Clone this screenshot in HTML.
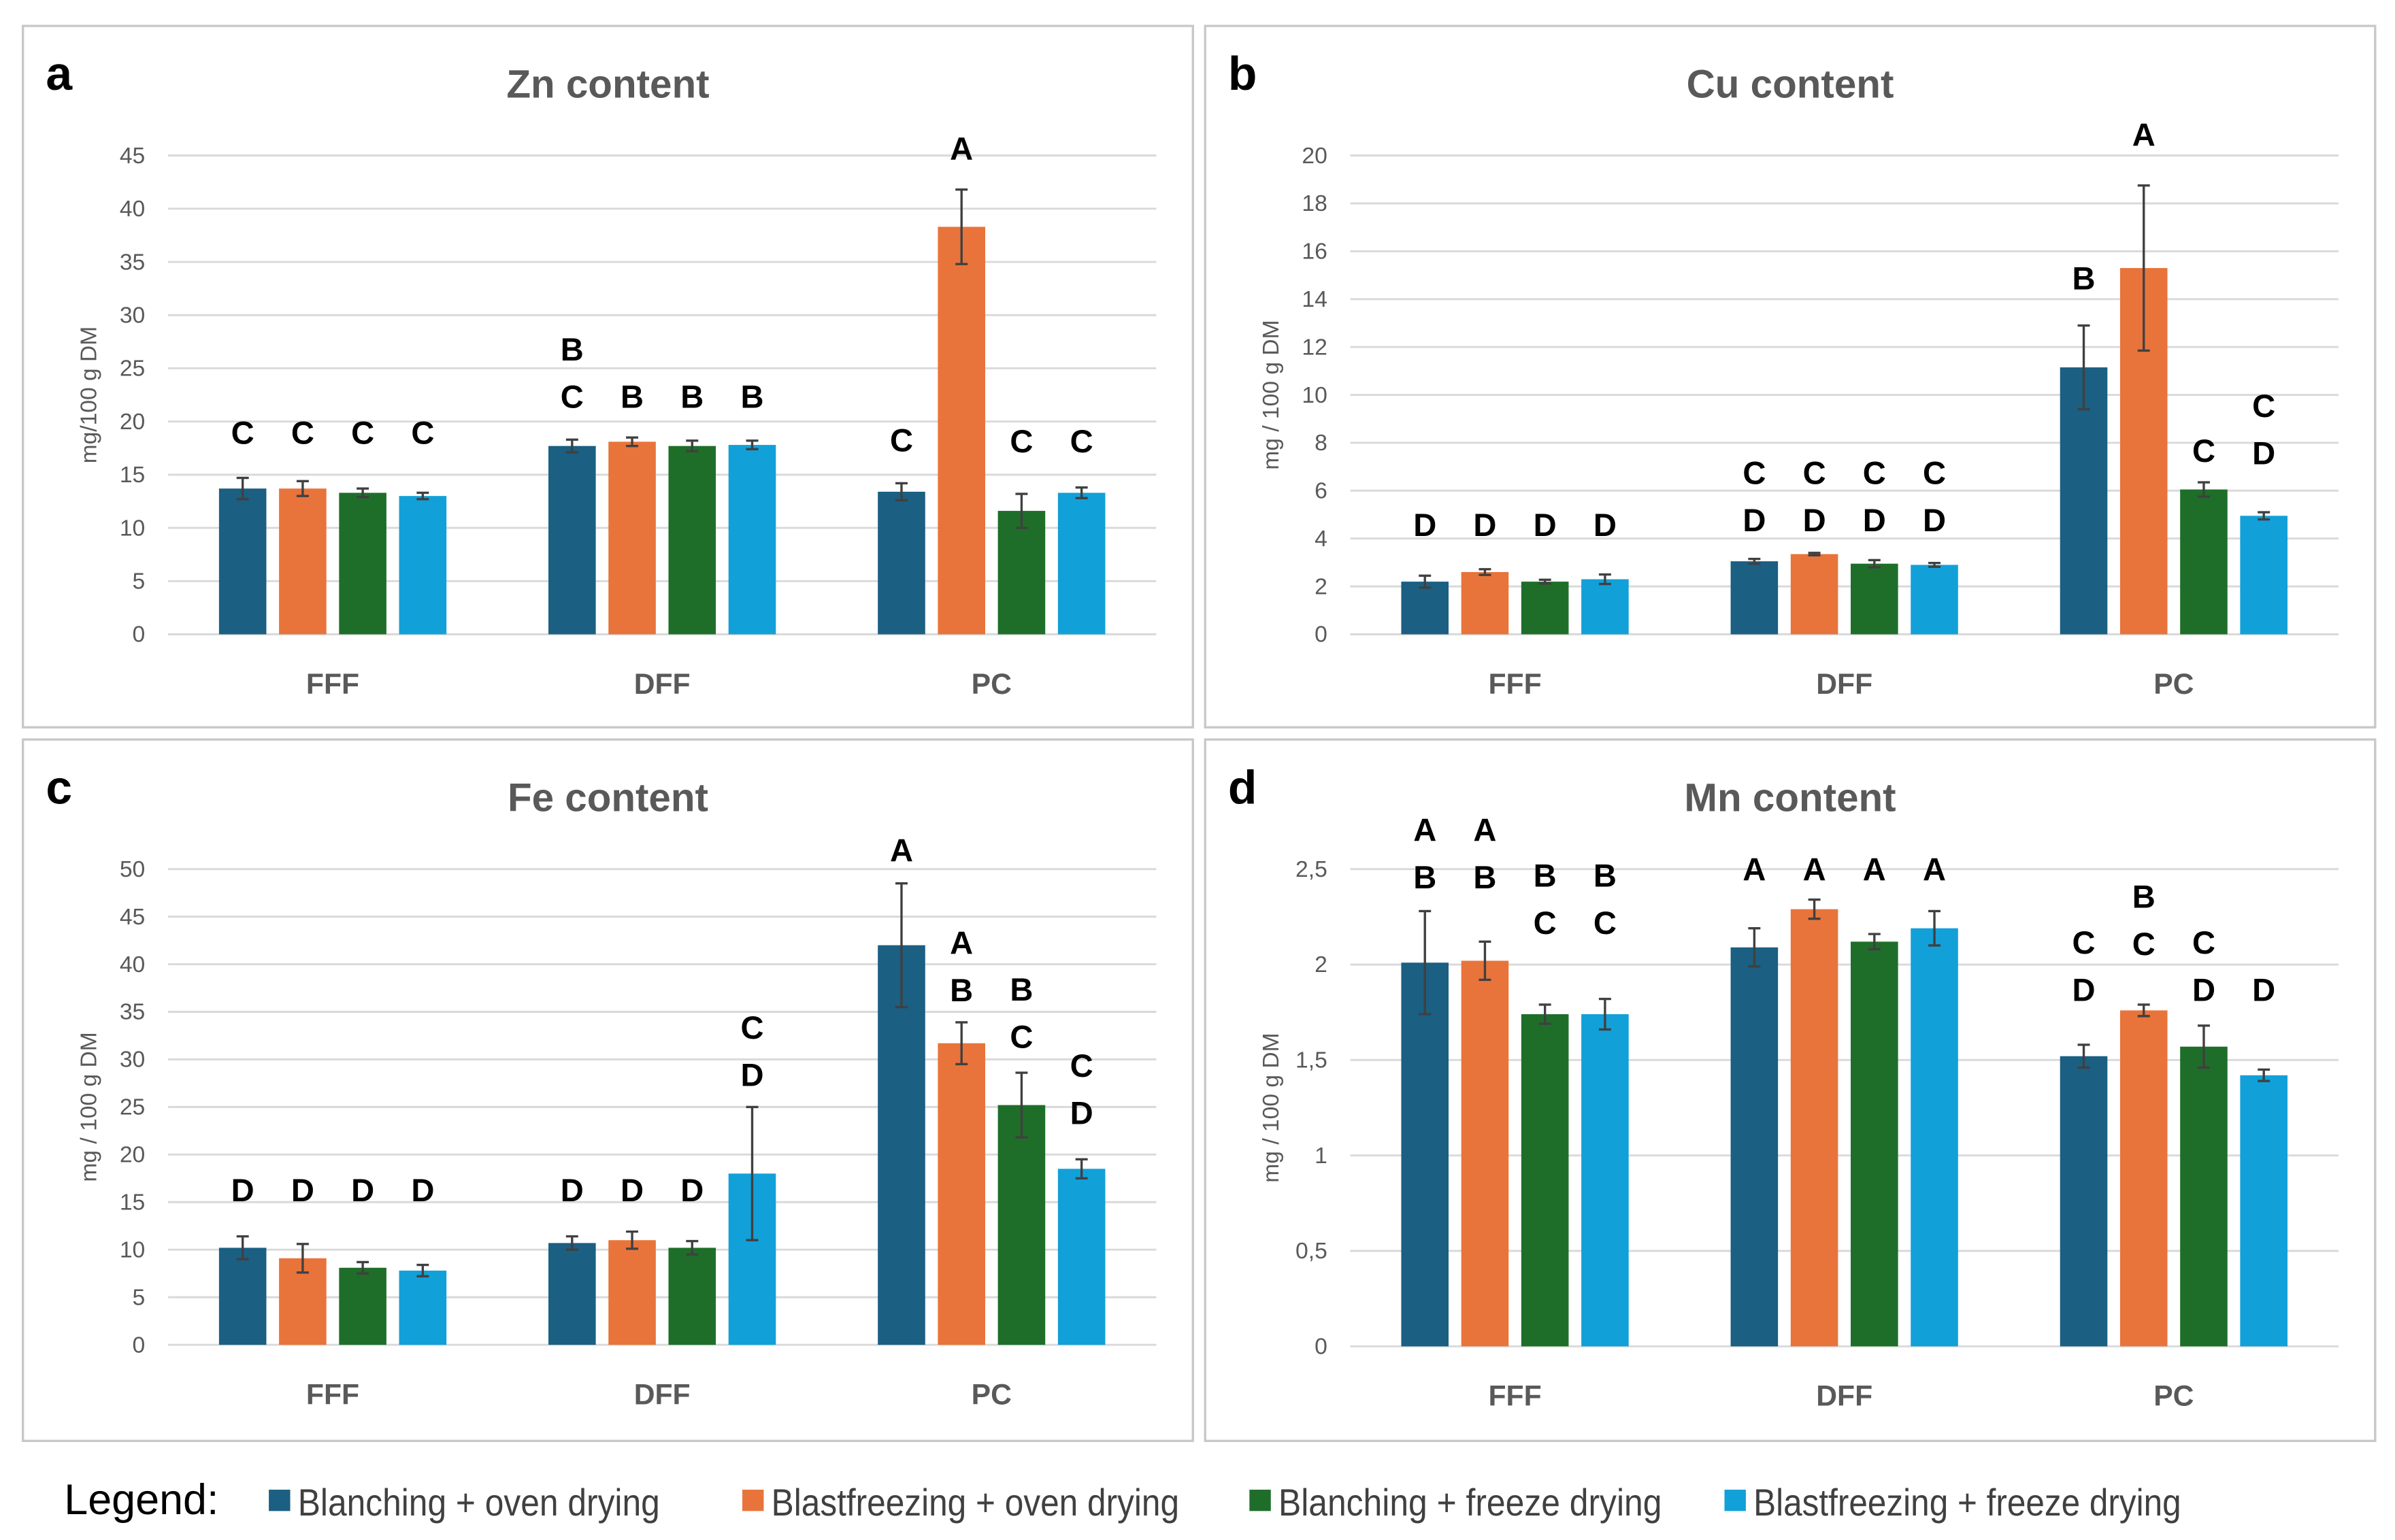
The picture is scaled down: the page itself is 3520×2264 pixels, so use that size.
<!DOCTYPE html>
<html><head><meta charset="utf-8"><style>
html,body{margin:0;padding:0;background:#fff;}
svg{display:block;}
text{font-family:"Liberation Sans",sans-serif;}
</style></head><body>
<svg id="fig" width="3520" height="2264" viewBox="0 0 1568 1010" preserveAspectRatio="none" xmlns="http://www.w3.org/2000/svg"></svg>
<script>
const categories = ["FFF","DFF","PC"];
const seriesNames = ["Blanching + oven drying","Blastfreezing + oven drying","Blanching + freeze drying","Blastfreezing + freeze drying"];
const colors = ["#1b5f82","#e8743b","#1e6e2a","#12a0d8"];

const znValues = [[13.7,13.7,13.3,13.0],[17.7,18.1,17.7,17.8],[13.4,38.3,11.6,13.3]];
const znErrors = [[1.0,0.7,0.4,0.3],[0.6,0.4,0.5,0.4],[0.8,3.5,1.6,0.5]];
const znLetters = [["C","C","C","C"],["BC","B","B","B"],["C","A","C","C"]];
const znLetterLevels = [[17.9,17.9,17.9,17.9],[21.3,21.3,21.3,21.3],[17.2,44.6,17.1,17.1]];
const znTicks = [0,5,10,15,20,25,30,35,40,45];

const cuValues = [[2.2,2.6,2.2,2.3],[3.05,3.35,2.95,2.9],[11.15,15.3,6.05,4.95]];
const cuErrors = [[0.25,0.12,0.08,0.2],[0.1,0.05,0.15,0.08],[1.75,3.45,0.3,0.15]];
const cuLetters = [["D","D","D","D"],["CD","CD","CD","CD"],["B","A","C","CD"]];
const cuLetterLevels = [[4.1,4.1,4.1,4.1],[4.3,4.3,4.3,4.3],[14.4,20.4,7.2,7.1]];
const cuTicks = [0,2,4,6,8,10,12,14,16,18,20];

const feValues = [[10.2,9.1,8.1,7.8],[10.7,11.0,10.2,18.0],[42,31.7,25.2,18.5]];
const feErrors = [[1.2,1.5,0.6,0.6],[0.7,0.9,0.7,7.0],[6.5,2.2,3.4,1.0]];
const feLetters = [["D","D","D","D"],["D","D","D","CD"],["A","AB","BC","CD"]];
const feLetterLevels = [[15.1,15.1,15.1,15.1],[15.1,15.1,15.1,27.2],[50.8,36.1,31.2,23.2]];
const feTicks = [0,5,10,15,20,25,30,35,40,45,50];

const mnValues = [[2.01,2.02,1.74,1.74],[2.09,2.29,2.12,2.19],[1.52,1.76,1.57,1.42]];
const mnErrors = [[0.27,0.1,0.05,0.08],[0.1,0.05,0.04,0.09],[0.06,0.03,0.11,0.03]];
const mnLetters = [["AB","AB","BC","BC"],["A","A","A","A"],["CD","BC","CD","D"]];
const mnLetterLevels = [[2.40,2.40,2.16,2.16],[2.44,2.44,2.44,2.44],[1.81,2.05,1.81,1.81]];
const mnTicks = [0,0.5,1,1.5,2,2.5];

const NS="http://www.w3.org/2000/svg";
const svg=document.getElementById('fig');
function mk(tag,attrs,parent,txt){const e=document.createElementNS(NS,tag);for(const k in attrs)e.setAttribute(k,attrs[k]);if(txt!==undefined)e.textContent=txt;(parent||svg).appendChild(e);return e;}

function panel(cfg){
  const g=mk('g',{});
  
  
  const box=mk('rect',{x:cfg.bx,y:cfg.by,width:766,height:460,fill:'#fff',stroke:'#c8c8c8','stroke-width':1.5},g);
  
  
  const ox=cfg.bx, oy=cfg.by;
  const y0=oy+399+(cfg.yShift||0), yTop=oy+85;
  const maxV=cfg.ticks[cfg.ticks.length-1];
  const ys=v=>y0-(v/maxV)*(y0-yTop);
  const xL=ox+95, xR=ox+742;
  const letter=mk('text',{x:ox+15,y:oy+42,'font-size':31,'font-weight':'bold',fill:'#000'},g,cfg.letter);
  
  
  const title=mk('text',{x:ox+383,y:oy+47,'font-size':26,'font-weight':'bold',fill:'#595959','text-anchor':'middle'},g,cfg.title);
  
  
  cfg.ticks.forEach(t=>{
    const y=ys(t);
    const gl=mk('line',{x1:xL,x2:xR,y1:y,y2:y,stroke:'#d9d9d9','stroke-width':1.3},g);
    
    
    const tl=mk('text',{x:ox+80,y:y+5,'font-size':15,fill:'#595959','text-anchor':'end'},g,String(t).replace('.',cfg.comma?',':'.'));
    
    
  });
  const yt=mk('text',{x:0,y:0,'font-size':15,fill:'#595959','text-anchor':'middle',transform:`translate(${ox+48},${(y0+yTop)/2}) rotate(-90)`},g,cfg.ylabel);
  
  
  const groupW=(xR-xL)/3;
  categories.forEach((c,ci)=>{
    const cx=xL+groupW*(ci+0.5);
    const cl=mk('text',{x:cx,y:y0+39,'font-size':19,'font-weight':'bold',fill:'#595959','text-anchor':'middle'},g,c);
    
    
    for(let s=0;s<4;s++){
      const bx=cx+(s-1.5)*39.3;
      const v=cfg.values[ci][s], e=cfg.errors[ci][s];
      const bar=mk('rect',{x:bx-15.5,y:ys(v),width:31,height:y0-ys(v),fill:colors[s]},g);
      
      
      const eg=mk('g',{stroke:'#404040','stroke-width':1.5},g);
      
      
      mk('line',{x1:bx,x2:bx,y1:ys(v+e),y2:ys(v-e)},eg);
      mk('line',{x1:bx-4,x2:bx+4,y1:ys(v+e),y2:ys(v+e)},eg);
      mk('line',{x1:bx-4,x2:bx+4,y1:ys(v-e),y2:ys(v-e)},eg);
      const L=cfg.lets[ci][s].split('');
      const base=ys(cfg.levels[ci][s]);
      L.forEach((ch,li)=>{
        const lt=mk('text',{x:bx,y:base-(L.length-1-li)*31,'font-size':21,'font-weight':'bold',fill:'#000','text-anchor':'middle'},g,ch);
        
        
      });
    }
  });
}
panel({id:'zn',letter:'a',title:'Zn content',bx:15,by:17,values:znValues,errors:znErrors,lets:znLetters,levels:znLetterLevels,ticks:znTicks,ylabel:'mg/100 g DM'});
panel({id:'cu',letter:'b',title:'Cu content',bx:789,by:17,values:cuValues,errors:cuErrors,lets:cuLetters,levels:cuLetterLevels,ticks:cuTicks,ylabel:'mg / 100 g DM'});
panel({id:'fe',letter:'c',title:'Fe content',bx:15,by:485,values:feValues,errors:feErrors,lets:feLetters,levels:feLetterLevels,ticks:feTicks,ylabel:'mg / 100 g DM',yShift:-2});
panel({id:'mn',letter:'d',title:'Mn content',bx:789,by:485,values:mnValues,errors:mnErrors,lets:mnLetters,levels:mnLetterLevels,ticks:mnTicks,ylabel:'mg / 100 g DM',yShift:-1,comma:true});

const lg=mk('g',{});


const lt=mk('text',{x:42,y:993,'font-size':28,fill:'#000'},lg,'Legend:');


const lx=[176,486,818,1129], lw=[237,267,251,280];
seriesNames.forEach((n,i)=>{
  const eg=mk('g',{},lg);
  
  
  mk('rect',{x:lx[i],y:977,width:14,height:14,fill:colors[i]},eg);
  mk('text',{x:lx[i]+19,y:994,'font-size':25,fill:'#404040',textLength:lw[i],lengthAdjust:'spacingAndGlyphs'},eg,n);
});
</script>
</body></html>
